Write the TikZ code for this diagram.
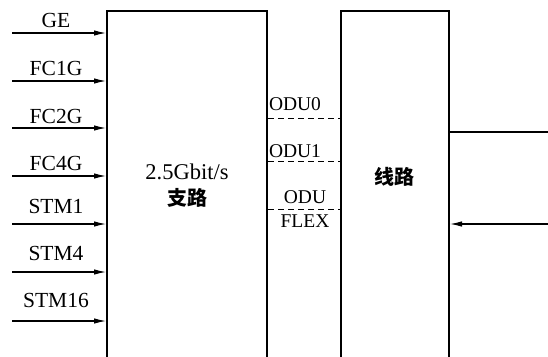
\documentclass[tikz,border=0pt]{standalone}
\usepackage{fontspec}
\setmainfont{Liberation Serif}
\newfontfamily\cjk{Noto Sans CJK SC}
\usetikzlibrary{arrows.meta}
\begin{document}
\begin{tikzpicture}[x=1pt,y=-1pt,
  boxline/.style={line width=2.2pt},
  sig/.style={line width=1.1pt,-{Latex[length=12pt,width=5.5pt]}},
  plain/.style={line width=1.1pt},
  lab/.style={anchor=base,inner sep=0pt,font=\fontsize{21.5}{24}\selectfont},
  odulab/.style={anchor=base,inner sep=0pt,font=\fontsize{19.5}{22}\selectfont},
  cjklab/.style={anchor=center,inner sep=0pt,font=\cjk\bfseries\fontsize{20}{24}\selectfont},
  dsh/.style={line width=1pt,dash pattern=on 6pt off 4pt}]
\useasboundingbox (0,0) rectangle (548,356);
% boxes (open at bottom)
\draw[boxline] (107,357) -- (107,11) -- (267,11) -- (267,357);
\draw[boxline] (341,357) -- (341,11) -- (449,11) -- (449,357);
% box texts
\node[cjklab] (trib1) at (187,172) {\fontspec{Liberation Serif}\mdseries\fontsize{22.5}{24}\selectfont 2.5Gbit/s};
\node[cjklab] (trib2) at (187,198) {支路};
\node[cjklab] (line) at (394,177) {线路};
% left inputs
\foreach \n/\t/\ay/\by in {ge/GE/33/27, fca/FC1G/81/75, fcb/FC2G/128/123, fcc/FC4G/176/170, stma/STM1/224/213, stmb/STM4/272/260, stmc/STM16/321/307}{
  \node[lab] (\n lab) at (56,\by) {\t};
  \coordinate (\n s) at (12,\ay);
  \coordinate (\n e) at (106,\ay);
  \draw[sig] (\n s) -- (\n e);
}
% ODU separators
\coordinate (d1a) at (268,118); \coordinate (d1b) at (340,118);
\coordinate (d2a) at (268,161); \coordinate (d2b) at (340,161);
\coordinate (d3a) at (268,209); \coordinate (d3b) at (340,209);
\draw[dsh] (d1a) -- (d1b);
\draw[dsh] (d2a) -- (d2b);
\draw[dsh] (d3a) -- (d3b);
\node[odulab] (odu0) at (295,110) {ODU0};
\node[odulab] (odu1) at (295,157) {ODU1};
\node[odulab] (odu) at (305,203) {ODU};
\node[odulab] (flex) at (305,227) {FLEX};
% right side
\coordinate (outs) at (450,132); \coordinate (oute) at (548,132);
\draw[plain] (outs) -- (oute);
\coordinate (ins) at (548,224); \coordinate (ine) at (450,224);
\draw[sig] (ins) -- (ine);
\end{tikzpicture}
\end{document}
